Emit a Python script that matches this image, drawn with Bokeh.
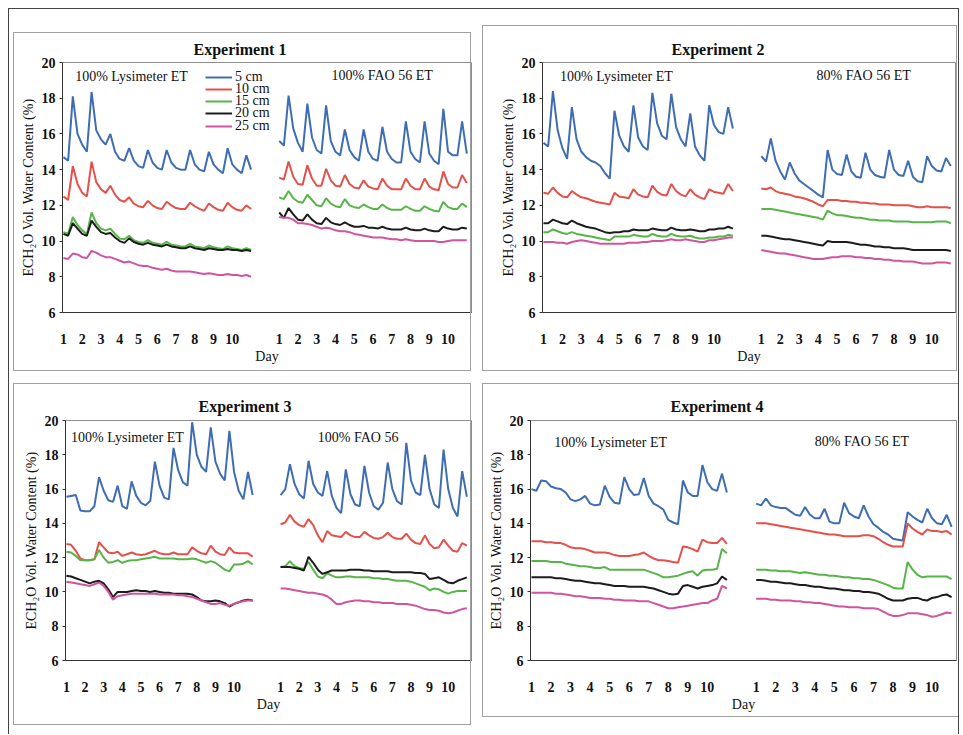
import numpy as np
from bokeh.plotting import figure
from bokeh.layouts import column, row
from bokeh.models import FixedTicker, Legend, LegendItem, Range1d, InlineStyleSheet
from bokeh.embed import file_html
from bokeh.resources import INLINE
from bokeh.core.properties import value

# ---------------- data ----------------
STEP_H = 6            # hours between readings
RIGHT_START_H = 276   # where the second treatment block starts on the x axis (hours)
DAY_LABELS = ["1", "2", "3", "4", "5", "6", "7", "8", "9", "10"]
DEPTHS = ["5 cm", "10 cm", "15 cm", "20 cm", "25 cm"]
COLORS = ["#3f6db3", "#e4504a", "#57b548", "#1c1c1c", "#d0559f"]
TITLES = ["Experiment 1", "Experiment 2", "Experiment 3", "Experiment 4"]
LEFT_TREAT = ["100% Lysimeter ET", "100% Lysimeter ET", "100% Lysimeter ET", "100% Lysimeter ET"]
RIGHT_TREAT = ["100% FAO 56 ET", "80% FAO 56 ET", "100% FAO 56", "80% FAO 56 ET"]

# Experiment 1, 100% Lysimeter ET
e1_lys_5 = [14.7, 14.5, 18.1, 16.0, 15.4, 15.0, 18.35, 16.2, 15.7, 15.4, 16.0, 15.0, 14.6, 14.5, 15.2, 14.5, 14.2, 14.1, 15.1, 14.4, 14.1, 14.0, 15.1, 14.4, 14.1, 14.0, 14.0, 15.1, 14.3, 14.0, 13.9, 15.0, 14.3, 14.0, 13.8, 15.2, 14.3, 14.0, 13.8, 14.8, 14.0]
e1_lys_10 = [12.5, 12.3, 14.2, 13.2, 12.7, 12.5, 14.45, 13.3, 12.9, 12.7, 13.1, 12.6, 12.3, 12.2, 12.45, 12.1, 11.95, 11.9, 12.25, 12.0, 11.85, 11.8, 12.2, 12.0, 11.85, 11.8, 11.8, 12.15, 11.95, 11.8, 11.7, 12.1, 11.9, 11.75, 11.7, 12.15, 11.9, 11.75, 11.7, 12.0, 11.8]
e1_lys_15 = [10.5, 10.4, 11.35, 10.9, 10.6, 10.4, 11.6, 11.0, 10.7, 10.6, 10.7, 10.4, 10.15, 10.1, 10.3, 10.05, 9.95, 9.9, 10.05, 9.9, 9.85, 9.8, 9.95, 9.8, 9.75, 9.7, 9.7, 9.85, 9.7, 9.65, 9.6, 9.75, 9.65, 9.6, 9.55, 9.7, 9.6, 9.55, 9.5, 9.6, 9.5]
e1_lys_20 = [10.4, 10.3, 11.0, 10.7, 10.4, 10.3, 11.15, 10.8, 10.5, 10.4, 10.45, 10.2, 10.0, 9.9, 10.15, 9.95, 9.85, 9.8, 9.9, 9.8, 9.75, 9.7, 9.8, 9.7, 9.65, 9.6, 9.6, 9.7, 9.6, 9.55, 9.5, 9.6, 9.55, 9.5, 9.5, 9.55, 9.5, 9.5, 9.45, 9.5, 9.45]
e1_lys_25 = [9.05, 9.0, 9.3, 9.25, 9.1, 9.05, 9.45, 9.35, 9.2, 9.1, 9.1, 9.0, 8.9, 8.8, 8.85, 8.75, 8.65, 8.6, 8.6, 8.5, 8.45, 8.4, 8.45, 8.35, 8.3, 8.3, 8.3, 8.3, 8.25, 8.2, 8.15, 8.2, 8.15, 8.1, 8.1, 8.15, 8.1, 8.1, 8.05, 8.1, 8.0]
# Experiment 1, 100% FAO 56 ET
e1_fao_5 = [15.6, 15.35, 18.15, 16.3, 15.5, 15.0, 17.7, 15.8, 15.1, 14.9, 17.6, 15.6, 15.0, 14.8, 16.25, 15.1, 14.7, 14.5, 16.25, 15.0, 14.6, 14.5, 16.4, 15.0, 14.6, 14.4, 14.4, 16.7, 15.0, 14.6, 14.4, 16.7, 14.9, 14.5, 14.3, 17.4, 15.0, 14.8, 14.8, 16.7, 14.9]
e1_fao_10 = [13.55, 13.45, 14.45, 13.6, 13.2, 13.15, 14.25, 13.5, 13.1, 13.1, 14.05, 13.4, 13.1, 13.05, 13.7, 13.2, 13.0, 12.95, 13.4, 13.05, 12.95, 12.9, 13.5, 13.1, 12.9, 12.9, 12.9, 13.5, 13.1, 12.9, 12.9, 13.5, 13.05, 12.9, 12.85, 13.9, 13.2, 13.0, 13.0, 13.7, 13.25]
e1_fao_15 = [12.45, 12.35, 12.8, 12.4, 12.2, 12.15, 12.6, 12.3, 12.0, 11.95, 12.4, 12.1, 11.95, 11.9, 12.35, 12.0, 11.9, 11.85, 12.05, 11.9, 11.8, 11.8, 12.05, 11.85, 11.75, 11.75, 11.75, 11.95, 11.8, 11.7, 11.7, 11.95, 11.8, 11.7, 11.65, 12.2, 11.9, 11.8, 11.8, 12.1, 11.9]
e1_fao_20 = [11.6, 11.3, 11.85, 11.5, 11.2, 11.15, 11.5, 11.2, 11.0, 10.95, 11.3, 11.05, 10.95, 10.9, 11.05, 10.9, 10.8, 10.8, 10.85, 10.75, 10.75, 10.7, 10.8, 10.7, 10.65, 10.65, 10.65, 10.75, 10.65, 10.6, 10.6, 10.7, 10.6, 10.55, 10.55, 10.8, 10.7, 10.65, 10.65, 10.75, 10.7]
e1_fao_25 = [11.35, 11.3, 11.3, 11.2, 11.0, 11.0, 10.95, 10.9, 10.8, 10.7, 10.75, 10.7, 10.6, 10.55, 10.55, 10.5, 10.4, 10.35, 10.3, 10.25, 10.2, 10.2, 10.2, 10.15, 10.1, 10.1, 10.05, 10.1, 10.05, 10.0, 10.0, 10.0, 10.0, 10.0, 9.95, 9.95, 10.0, 10.05, 10.05, 10.05, 10.05]

# Experiment 2, 100% Lysimeter ET
e2_lys_5 = [15.5, 15.3, 18.4, 16.2, 15.2, 14.6, 17.5, 15.7, 15.0, 14.7, 14.5, 14.4, 14.2, 13.8, 13.5, 17.3, 15.9, 15.3, 15.0, 17.6, 15.8, 15.3, 15.1, 18.3, 16.6, 15.9, 15.7, 18.25, 16.4, 15.7, 15.3, 17.15, 15.3, 14.8, 14.5, 17.6, 16.5, 16.1, 16.0, 17.5, 16.3]
e2_lys_10 = [12.7, 12.65, 13.0, 12.7, 12.5, 12.45, 12.8, 12.6, 12.45, 12.4, 12.3, 12.2, 12.15, 12.1, 12.05, 12.7, 12.5, 12.45, 12.4, 12.9, 12.6, 12.5, 12.45, 13.1, 12.75, 12.6, 12.55, 13.2, 12.8, 12.6, 12.5, 12.9, 12.6, 12.45, 12.35, 12.9, 12.75, 12.7, 12.65, 13.2, 12.8]
e2_lys_15 = [10.5, 10.5, 10.65, 10.55, 10.45, 10.4, 10.5, 10.4, 10.35, 10.3, 10.25, 10.2, 10.15, 10.1, 10.05, 10.25, 10.25, 10.25, 10.25, 10.35, 10.3, 10.25, 10.25, 10.4, 10.3, 10.25, 10.25, 10.4, 10.3, 10.25, 10.25, 10.3, 10.2, 10.15, 10.15, 10.2, 10.2, 10.25, 10.25, 10.35, 10.3]
e2_lys_20 = [11.0, 11.0, 11.2, 11.1, 11.0, 10.95, 11.15, 11.0, 10.9, 10.8, 10.75, 10.7, 10.6, 10.5, 10.45, 10.5, 10.5, 10.55, 10.55, 10.65, 10.6, 10.6, 10.6, 10.7, 10.65, 10.6, 10.6, 10.75, 10.65, 10.6, 10.6, 10.65, 10.6, 10.55, 10.55, 10.65, 10.65, 10.7, 10.7, 10.8, 10.7]
e2_lys_25 = [9.95, 9.95, 9.95, 9.9, 9.9, 9.85, 9.95, 10.0, 10.05, 10.0, 9.95, 9.9, 9.85, 9.85, 9.85, 9.85, 9.85, 9.85, 9.9, 9.9, 9.9, 9.95, 9.95, 10.0, 10.0, 10.0, 10.05, 10.1, 10.05, 10.05, 10.1, 10.05, 10.0, 9.95, 9.95, 10.05, 10.05, 10.1, 10.15, 10.2, 10.2]
# Experiment 2, 80% FAO 56 ET
e2_fao_5 = [14.75, 14.45, 15.75, 14.5, 13.9, 13.45, 14.4, 13.8, 13.4, 13.2, 13.0, 12.8, 12.6, 12.45, 15.1, 14.0, 13.75, 13.7, 14.85, 13.9, 13.6, 13.55, 14.95, 14.0, 13.7, 13.6, 13.55, 15.1, 14.0, 13.7, 13.65, 14.5, 13.6, 13.35, 13.3, 14.75, 14.2, 13.95, 13.9, 14.65, 14.2]
e2_fao_10 = [12.95, 12.9, 13.0, 12.8, 12.7, 12.65, 12.6, 12.5, 12.45, 12.4, 12.3, 12.2, 12.05, 11.95, 12.3, 12.3, 12.3, 12.25, 12.25, 12.2, 12.2, 12.15, 12.15, 12.1, 12.1, 12.05, 12.05, 12.05, 12.0, 12.0, 12.0, 12.0, 11.95, 11.9, 11.9, 11.95, 11.9, 11.9, 11.9, 11.9, 11.85]
e2_fao_15 = [11.8, 11.8, 11.8, 11.75, 11.7, 11.65, 11.6, 11.55, 11.5, 11.45, 11.4, 11.35, 11.3, 11.2, 11.7, 11.55, 11.45, 11.45, 11.4, 11.35, 11.3, 11.3, 11.25, 11.2, 11.2, 11.15, 11.15, 11.15, 11.1, 11.1, 11.1, 11.1, 11.05, 11.05, 11.05, 11.05, 11.05, 11.1, 11.1, 11.1, 11.0]
e2_fao_20 = [10.3, 10.3, 10.25, 10.2, 10.15, 10.1, 10.1, 10.05, 10.0, 9.95, 9.9, 9.85, 9.8, 9.75, 10.0, 9.95, 9.95, 9.95, 9.95, 9.9, 9.85, 9.8, 9.8, 9.75, 9.7, 9.7, 9.65, 9.65, 9.6, 9.6, 9.6, 9.55, 9.5, 9.5, 9.5, 9.5, 9.5, 9.5, 9.5, 9.5, 9.45]
e2_fao_25 = [9.5, 9.45, 9.4, 9.35, 9.3, 9.3, 9.25, 9.2, 9.15, 9.1, 9.05, 9.0, 9.0, 9.0, 9.05, 9.1, 9.1, 9.15, 9.15, 9.15, 9.1, 9.1, 9.05, 9.05, 9.0, 9.0, 8.95, 8.95, 8.9, 8.9, 8.85, 8.85, 8.85, 8.8, 8.75, 8.75, 8.75, 8.8, 8.8, 8.8, 8.75]

# Experiment 3, 100% Lysimeter ET
e3_lys_5 = [15.55, 15.6, 15.65, 14.75, 14.7, 14.7, 15.0, 16.7, 15.9, 15.35, 15.25, 16.2, 15.0, 14.85, 16.45, 15.6, 15.2, 15.05, 15.3, 17.6, 16.2, 15.5, 15.4, 18.4, 17.1, 16.4, 16.2, 19.9, 18.0, 17.3, 17.0, 19.6, 17.6, 16.9, 16.5, 19.4, 17.0, 15.9, 15.4, 17.0, 15.65]
e3_lys_10 = [12.8, 12.75, 12.4, 11.95, 11.85, 11.85, 11.9, 12.9, 12.6, 12.3, 12.25, 12.35, 12.1, 12.2, 12.3, 12.2, 12.15, 12.2, 12.3, 12.4, 12.25, 12.2, 12.2, 12.3, 12.2, 12.2, 12.2, 12.6, 12.4, 12.25, 12.2, 12.7, 12.35, 12.2, 12.15, 12.6, 12.3, 12.25, 12.25, 12.25, 12.05]
e3_lys_15 = [12.35, 12.3, 12.1, 11.85, 11.85, 11.85, 11.9, 12.45, 12.0, 11.7, 11.75, 11.85, 11.7, 11.8, 11.85, 11.85, 11.9, 11.95, 12.0, 12.05, 11.95, 11.95, 11.95, 11.95, 11.9, 11.9, 11.9, 11.95, 11.9, 11.8, 11.7, 11.8, 11.7, 11.5, 11.3, 11.2, 11.6, 11.6, 11.65, 11.8, 11.6]
e3_lys_20 = [10.95, 10.9, 10.8, 10.7, 10.6, 10.5, 10.6, 10.65, 10.5, 10.15, 9.7, 10.0, 10.0, 10.0, 10.05, 10.1, 10.05, 10.05, 10.0, 10.05, 10.0, 9.95, 9.95, 9.9, 9.9, 9.9, 9.9, 9.85, 9.7, 9.5, 9.45, 9.45, 9.5, 9.45, 9.35, 9.15, 9.3, 9.4, 9.5, 9.55, 9.5]
e3_lys_25 = [10.6, 10.55, 10.5, 10.45, 10.4, 10.35, 10.45, 10.55, 10.35, 10.0, 9.55, 9.75, 9.8, 9.85, 9.9, 9.9, 9.9, 9.9, 9.9, 9.9, 9.85, 9.85, 9.85, 9.85, 9.8, 9.8, 9.75, 9.7, 9.6, 9.5, 9.4, 9.3, 9.3, 9.35, 9.25, 9.2, 9.3, 9.4, 9.45, 9.5, 9.5]
# Experiment 3, 100% FAO 56
e3_fao_5 = [15.65, 16.0, 17.45, 16.3, 15.7, 15.45, 17.65, 16.3, 15.8, 15.6, 17.05, 15.6, 14.9, 14.6, 17.15, 15.7, 15.1, 15.0, 17.35, 15.8, 15.0, 14.8, 15.2, 17.55, 16.0, 15.3, 15.1, 18.7, 16.5, 15.8, 15.65, 18.0, 16.0, 15.1, 14.9, 18.3, 16.0, 14.9, 14.4, 17.05, 15.55]
e3_fao_10 = [13.95, 14.05, 14.5, 14.1, 13.9, 13.8, 14.25, 13.9, 13.3, 12.9, 13.55, 13.3, 13.25, 13.2, 13.5, 13.3, 13.2, 13.2, 13.5, 13.3, 13.15, 13.1, 13.2, 13.45, 13.2, 13.1, 13.1, 13.4, 13.05, 12.85, 12.8, 13.3, 12.8, 12.55, 12.6, 13.05, 12.7, 12.4, 12.35, 12.85, 12.7]
e3_fao_15 = [11.45, 11.5, 11.8, 11.5, 11.4, 11.35, 11.75, 11.3, 10.9, 10.8, 11.1, 10.95, 10.85, 10.85, 10.9, 10.9, 10.85, 10.85, 10.85, 10.85, 10.8, 10.8, 10.75, 10.75, 10.7, 10.65, 10.65, 10.65, 10.6, 10.5, 10.4, 10.3, 10.1, 10.2, 10.15, 10.0, 9.9, 10.0, 10.05, 10.05, 10.05]
e3_fao_20 = [11.45, 11.45, 11.45, 11.4, 11.35, 11.25, 12.05, 11.7, 11.3, 11.05, 11.15, 11.25, 11.25, 11.25, 11.25, 11.3, 11.3, 11.3, 11.25, 11.25, 11.2, 11.2, 11.2, 11.2, 11.15, 11.15, 11.15, 11.15, 11.15, 11.1, 11.1, 11.05, 10.75, 10.8, 10.85, 10.7, 10.55, 10.5, 10.65, 10.75, 10.85]
e3_fao_25 = [10.2, 10.2, 10.15, 10.1, 10.05, 10.0, 9.95, 9.95, 9.9, 9.85, 9.75, 9.55, 9.3, 9.3, 9.4, 9.45, 9.5, 9.5, 9.45, 9.45, 9.4, 9.4, 9.35, 9.35, 9.35, 9.3, 9.3, 9.3, 9.25, 9.2, 9.1, 9.0, 8.95, 8.95, 8.9, 8.8, 8.75, 8.8, 8.9, 9.0, 9.05]

# Experiment 4, 100% Lysimeter ET
e4_lys_5 = [16.0, 15.9, 16.5, 16.45, 16.15, 16.05, 16.0, 15.8, 15.4, 15.3, 15.4, 15.6, 15.15, 15.05, 15.1, 16.2, 15.55, 15.2, 15.15, 16.7, 16.0, 15.65, 15.7, 16.65, 15.6, 15.15, 15.0, 14.8, 14.2, 14.05, 13.95, 16.5, 15.8, 15.6, 15.6, 17.4, 16.4, 16.0, 15.9, 16.9, 15.8]
e4_lys_10 = [12.95, 12.95, 12.95, 12.9, 12.9, 12.85, 12.85, 12.75, 12.6, 12.55, 12.55, 12.5, 12.4, 12.3, 12.3, 12.3, 12.25, 12.15, 12.1, 12.1, 12.1, 12.15, 12.2, 12.3, 12.1, 11.95, 11.85, 11.85, 11.8, 11.75, 11.7, 12.65, 12.6, 12.5, 12.35, 13.05, 12.9, 12.85, 12.85, 13.15, 12.8]
e4_lys_15 = [11.8, 11.8, 11.8, 11.8, 11.75, 11.75, 11.75, 11.65, 11.6, 11.55, 11.5, 11.5, 11.45, 11.4, 11.4, 11.45, 11.3, 11.3, 11.3, 11.3, 11.3, 11.3, 11.3, 11.3, 11.2, 11.1, 11.0, 10.85, 10.85, 10.9, 10.95, 11.05, 11.15, 11.2, 10.95, 11.25, 11.3, 11.3, 11.35, 12.5, 12.25]
e4_lys_20 = [10.85, 10.85, 10.85, 10.85, 10.85, 10.8, 10.8, 10.75, 10.7, 10.65, 10.65, 10.6, 10.55, 10.5, 10.5, 10.45, 10.4, 10.35, 10.35, 10.35, 10.3, 10.3, 10.3, 10.3, 10.25, 10.2, 10.1, 10.0, 9.9, 9.85, 9.9, 10.35, 10.4, 10.3, 10.2, 10.3, 10.35, 10.4, 10.5, 10.9, 10.7]
e4_lys_25 = [9.95, 9.95, 9.95, 9.95, 9.95, 9.9, 9.9, 9.85, 9.8, 9.75, 9.75, 9.7, 9.65, 9.65, 9.65, 9.6, 9.6, 9.55, 9.55, 9.5, 9.5, 9.5, 9.45, 9.45, 9.45, 9.35, 9.25, 9.15, 9.05, 9.05, 9.1, 9.15, 9.2, 9.25, 9.3, 9.35, 9.35, 9.5, 9.6, 10.35, 10.2]
# Experiment 4, 80% FAO 56 ET
e4_fao_5 = [15.15, 15.05, 15.45, 15.05, 14.95, 14.9, 14.9, 14.7, 14.5, 14.45, 14.95, 14.5, 14.3, 14.3, 14.85, 14.1, 14.0, 14.0, 15.2, 14.6, 14.4, 14.3, 15.05, 14.4, 13.95, 13.75, 13.5, 13.35, 13.1, 13.05, 13.0, 14.65, 14.4, 14.2, 14.05, 14.85, 14.3, 14.0, 13.95, 14.5, 13.8]
e4_fao_10 = [14.0, 14.0, 14.0, 13.95, 13.9, 13.85, 13.8, 13.75, 13.7, 13.65, 13.6, 13.55, 13.5, 13.45, 13.4, 13.35, 13.35, 13.3, 13.25, 13.25, 13.25, 13.25, 13.3, 13.3, 13.25, 13.1, 12.9, 12.75, 12.65, 12.65, 12.65, 14.0, 13.7, 13.5, 13.35, 13.65, 13.55, 13.55, 13.5, 13.55, 13.35]
e4_fao_15 = [11.3, 11.3, 11.3, 11.25, 11.25, 11.2, 11.2, 11.2, 11.15, 11.1, 11.15, 11.1, 11.05, 11.0, 11.0, 10.95, 10.95, 10.9, 10.85, 10.85, 10.8, 10.8, 10.75, 10.75, 10.7, 10.6, 10.5, 10.4, 10.25, 10.2, 10.2, 11.75, 11.3, 11.0, 10.85, 10.9, 10.9, 10.9, 10.9, 10.9, 10.75]
e4_fao_20 = [10.7, 10.7, 10.65, 10.6, 10.6, 10.55, 10.5, 10.5, 10.45, 10.4, 10.4, 10.35, 10.3, 10.3, 10.25, 10.2, 10.2, 10.15, 10.1, 10.1, 10.05, 10.05, 10.0, 10.0, 9.95, 9.9, 9.75, 9.6, 9.5, 9.5, 9.5, 9.6, 9.65, 9.65, 9.55, 9.5, 9.65, 9.7, 9.8, 9.85, 9.7]
e4_fao_25 = [9.6, 9.6, 9.6, 9.55, 9.55, 9.5, 9.5, 9.5, 9.45, 9.45, 9.4, 9.4, 9.35, 9.35, 9.3, 9.25, 9.2, 9.15, 9.15, 9.1, 9.1, 9.1, 9.05, 9.05, 9.05, 9.0, 8.85, 8.7, 8.6, 8.6, 8.65, 8.75, 8.75, 8.75, 8.7, 8.65, 8.55, 8.6, 8.7, 8.8, 8.75]

LYS = [
    [e1_lys_5, e1_lys_10, e1_lys_15, e1_lys_20, e1_lys_25],
    [e2_lys_5, e2_lys_10, e2_lys_15, e2_lys_20, e2_lys_25],
    [e3_lys_5, e3_lys_10, e3_lys_15, e3_lys_20, e3_lys_25],
    [e4_lys_5, e4_lys_10, e4_lys_15, e4_lys_20, e4_lys_25],
]
FAO = [
    [e1_fao_5, e1_fao_10, e1_fao_15, e1_fao_20, e1_fao_25],
    [e2_fao_5, e2_fao_10, e2_fao_15, e2_fao_20, e2_fao_25],
    [e3_fao_5, e3_fao_10, e3_fao_15, e3_fao_20, e3_fao_25],
    [e4_fao_5, e4_fao_10, e4_fao_15, e4_fao_20, e4_fao_25],
]

# ---------------- layout / styling ----------------
SERIF = "Liberation Serif"
# (width, height, left, right, top, bottom)
SIZES = [
    (481, 376, 62, 10, 62, 59),
    (481, 376, 61, 7, 58, 64),
    (481, 358, 65, 10, 44, 67),
    (481, 358, 49, 6, 39, 74),
]
TITLE_OFFSET = [131, 129, 133, 140]
TITLE_STANDOFF = [9, 9, 12, 11]
# panel frame (left, top, width, height) in pixels of each figure's canvas
PANEL_BOX = [
    (13, 32, 458, 339),
    (1, 25, 475, 346),
    (13, 7, 458, 342),
    (1, 7, 477, 334),
]
# treatment-label positions (hours, value)
TEXT_POS = [
    ((15, 19.2), (343, 19.25)),
    ((21, 19.2), (346, 19.3)),
    ((6, 19.0), (324, 19.0)),
    ((28, 18.7), (348, 18.75)),
]
# legend entry bottoms (screen px above the frame bottom) for the five depths
LEGEND_X = 143
LEGEND_Y = [227, 215, 203, 191, 178]

tick_pos = [i * 24 for i in range(10)] + [RIGHT_START_H + i * 24 for i in range(10)]
tick_labels = {pos: DAY_LABELS[i % 10] for i, pos in enumerate(tick_pos)}


def box_css(b, color="#a0a0a0"):
    l, t, w, h = b
    return InlineStyleSheet(css=(
        ":host { position: relative; }\n"
        ":host::after { content: ''; position: absolute; "
        f"left: {l}px; top: {t}px; width: {w}px; height: {h}px; "
        f"border: 1px solid {color}; box-sizing: border-box; pointer-events: none; z-index: 5; }}"))


def make_panel(k):
    w, h, bl, br, bt, bb = SIZES[k]
    p = figure(width=w, height=h, output_backend="svg", toolbar_location=None,
               x_range=Range1d(-1.2, 522), y_range=Range1d(6, 20),
               min_border_left=bl, min_border_right=br,
               min_border_top=bt, min_border_bottom=bb)
    p.background_fill_color = "white"
    p.border_fill_color = None
    p.outline_line_color = "#8e8e8e"
    p.outline_line_width = 1
    p.grid.visible = False

    p.title.text = TITLES[k]
    p.title.text_font = SERIF
    p.title.text_font_size = "16px"
    p.title.text_font_style = "bold"
    p.title.text_color = "#111111"
    p.title.align = "left"
    p.title.offset = TITLE_OFFSET[k]
    p.title.standoff = TITLE_STANDOFF[k]

    ya = p.yaxis[0]
    ya.ticker = FixedTicker(ticks=[6, 8, 10, 12, 14, 16, 18, 20])
    ya.axis_label = "ECH\u2082O Vol. Water Content (%)"
    ya.axis_label_text_font = SERIF
    ya.axis_label_text_font_size = "14px"
    ya.axis_label_text_font_style = "normal"
    ya.axis_label_text_color = "#111111"
    ya.axis_label_standoff = 3
    ya.major_label_text_font = SERIF
    ya.major_label_text_font_size = "14px"
    ya.major_label_text_font_style = "bold"
    ya.major_label_text_color = "#111111"
    ya.major_label_standoff = 4
    ya.major_tick_out = 3
    ya.major_tick_in = 0
    ya.minor_tick_out = 0
    ya.minor_tick_in = 0
    ya.axis_line_color = "#333333"
    ya.major_tick_line_color = "#333333"

    xa = p.xaxis[0]
    xa.ticker = FixedTicker(ticks=tick_pos)
    xa.major_label_overrides = tick_labels
    xa.axis_label = "Day"
    xa.axis_label_text_font = SERIF
    xa.axis_label_text_font_size = "14px"
    xa.axis_label_text_font_style = "normal"
    xa.axis_label_text_color = "#111111"
    xa.axis_label_standoff = 2
    xa.major_label_text_font = SERIF
    xa.major_label_text_font_size = "14px"
    xa.major_label_text_font_style = "bold"
    xa.major_label_text_color = "#111111"
    xa.major_label_standoff = 21
    xa.major_tick_out = 0
    xa.major_tick_in = 0
    xa.minor_tick_out = 0
    xa.minor_tick_in = 0
    xa.axis_line_color = "#333333"

    left_renderers = []
    for j in range(5):
        yl = LYS[k][j]
        xl = np.arange(len(yl)) * STEP_H
        r = p.line(xl, yl, line_color=COLORS[j], line_width=2)
        left_renderers.append(r)
        yr = FAO[k][j]
        xr = RIGHT_START_H + np.arange(len(yr)) * STEP_H
        p.line(xr, yr, line_color=COLORS[j], line_width=2)

    (lx, ly), (rx, ry) = TEXT_POS[k]
    p.text(x=[lx, rx], y=[ly, ry], text=[LEFT_TREAT[k], RIGHT_TREAT[k]],
           text_font=value(SERIF), text_font_size="14px", text_color="#111111",
           text_baseline="middle", text_align="left")

    if k == 0:
        for j in range(5):
            lg = Legend(items=[LegendItem(label=DEPTHS[j], renderers=[left_renderers[j]])],
                        location=(LEGEND_X, LEGEND_Y[j]), orientation="vertical",
                        label_text_font=SERIF, label_text_font_size="14px",
                        label_text_color="#111111", label_height=12, glyph_height=12,
                        glyph_width=27, label_standoff=3, spacing=0, padding=0, margin=0,
                        border_line_color=None, background_fill_alpha=0)
            p.add_layout(lg, "center")

    p.stylesheets = [box_css(PANEL_BOX[k])]
    return p


panels = [make_panel(k) for k in range(4)]
layout = column(row(panels[0], panels[1]), row(panels[2], panels[3]))
layout.stylesheets = [InlineStyleSheet(css=(
    ":host { position: relative; }\n"
    ":host::after { content: ''; position: absolute; left: 8px; top: 8px; "
    "width: 951px; height: 740px; border: 1px solid #444; box-sizing: border-box; "
    "pointer-events: none; z-index: 6; }"))]
layout.styles = {"overflow": "hidden"}

open("out.html", "w").write(file_html(layout, INLINE))
